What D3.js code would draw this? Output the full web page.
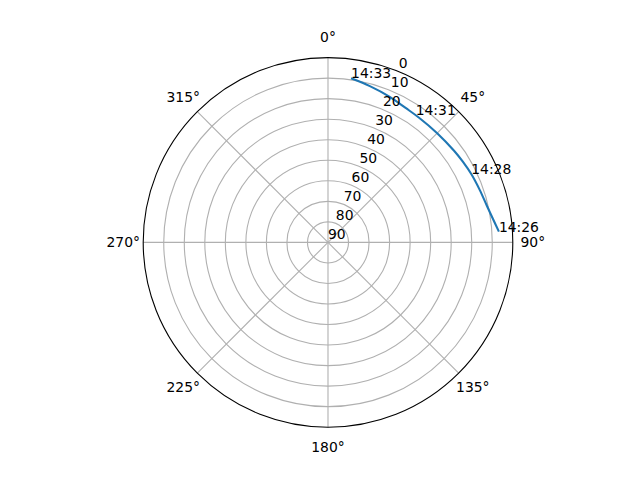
<!DOCTYPE html>
<html>
<head>
<meta charset="utf-8">
<script src="https://cdn.jsdelivr.net/npm/d3@7.9.0/dist/d3.min.js"></script>
<style>
  body { margin: 0; background: #fff; }
  text { font-family: "DejaVu Sans", sans-serif; font-size: 13.9px; fill: #000; }
</style>
</head>
<body>
<svg id="chart" width="640" height="480"></svg>
<script>
// satellite track: azimuth (deg, clockwise from north) and elevation (deg)
const trackAz = [86.4, 82, 77, 71, 64.5, 59, 54, 45, 36, 30, 23, 15, 8];
const trackEl = [6.6, 8.8, 10.6, 11.8, 12.7, 13.5, 14.1, 14.8, 14.8, 14.4, 13.0, 11.2, 9.3];

// time marks along the pass
const passTimes = ["14:26", "14:28", "14:31", "14:33"];
const passAz = [86.4, 64.5, 34.5, 8.0];
const passEl = [6.6, 12.7, 14.6, 9.3];

const angleTicks = [0, 45, 90, 135, 180, 225, 270, 315];
const radiusTicks = [0, 10, 20, 30, 40, 50, 60, 70, 80, 90];

const svg = d3.select("#chart"),
      cx = 328, cy = 242.4, R = 184.8,
      rlabelAngle = 22.5;

const g = svg.append("g").attr("transform", `translate(${cx},${cy})`);

// elevation 0 on the rim, 90 at the centre
const rScale = d3.scaleLinear().domain([0, 90]).range([R, 0]);
const aScale = d3.scaleLinear().domain([0, 360]).range([0, 2 * Math.PI]);

const px = (az, el) => rScale(el) * Math.sin(aScale(az));
const py = (az, el) => -rScale(el) * Math.cos(aScale(az));

// rings
g.selectAll(".ring")
  .data(radiusTicks.filter(d => d > 0 && d < 90))
  .enter().append("circle")
  .attr("class", "ring")
  .attr("r", d => rScale(d))
  .attr("fill", "none")
  .attr("stroke", "#b0b0b0")
  .attr("stroke-width", 1.1);

// spokes
g.selectAll(".spoke")
  .data(angleTicks)
  .enter().append("line")
  .attr("class", "spoke")
  .attr("x1", 0).attr("y1", 0)
  .attr("x2", d => px(d, 0))
  .attr("y2", d => py(d, 0))
  .attr("stroke", "#b0b0b0")
  .attr("stroke-width", 1.1);

// outer spine
g.append("circle")
  .attr("r", rScale(0))
  .attr("fill", "none")
  .attr("stroke", "#000")
  .attr("stroke-width", 1.1);

// track
const track = trackAz.map((a, i) => [aScale(a), rScale(trackEl[i])]);
g.append("path")
  .datum(track)
  .attr("fill", "none")
  .attr("stroke", "#1f77b4")
  .attr("stroke-width", 2.1)
  .attr("d", d3.lineRadial().curve(d3.curveCatmullRom));

// angle labels
g.selectAll(".alabel")
  .data(angleTicks)
  .enter().append("text")
  .attr("class", "alabel")
  .attr("x", d => (R + 20) * Math.sin(aScale(d)))
  .attr("y", d => -(R + 20) * Math.cos(aScale(d)))
  .attr("dy", "0.35em")
  .attr("text-anchor", "middle")
  .text(d => d + "°");

// radius labels
g.selectAll(".rlabel")
  .data(radiusTicks)
  .enter().append("text")
  .attr("class", "rlabel")
  .attr("x", d => px(rlabelAngle, d))
  .attr("y", d => py(rlabelAngle, d) - 3.3)
  .text(d => d);

// time annotations
g.selectAll(".tlabel")
  .data(passTimes)
  .enter().append("text")
  .attr("class", "tlabel")
  .attr("x", (d, i) => px(passAz[i], passEl[i]))
  .attr("y", (d, i) => py(passAz[i], passEl[i]))
  .text(d => d);
</script>
</body>
</html>
